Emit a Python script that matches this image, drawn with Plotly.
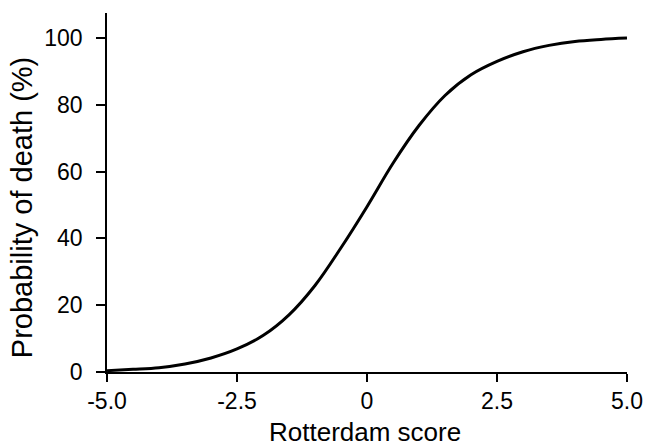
import plotly.graph_objects as go

score = [-5.0, -4.5, -4.0, -3.5, -3.0, -2.5, -2.0, -1.5, -1.0, -0.5, 0.0,
         0.5, 1.0, 1.5, 2.0, 2.5, 3.0, 3.5, 4.0, 4.5, 5.0]
prob_death = [0.4, 0.8, 1.3, 2.4, 4.2, 6.9, 10.9, 17.1, 25.9, 37.2, 49.5,
              62.5, 73.8, 82.8, 89.0, 93.0, 95.9, 97.8, 99.0, 99.6, 100.0]

x_tickvals = [-5.0, -2.5, 0.0, 2.5, 5.0]
x_ticktext = ["-5.0", "-2.5", "0", "2.5", "5.0"]
y_tickvals = [0, 20, 40, 60, 80, 100]

x_title = "Rotterdam score"
y_title = "Probability of death (%)"

font_family = "Liberation Sans, Arial, Helvetica, sans-serif"

fig = go.Figure()
fig.add_trace(go.Scatter(
    x=score, y=prob_death, mode="lines",
    line=dict(color="black", width=3, shape="spline", smoothing=1.0),
    hoverinfo="skip", showlegend=False,
))

fig.update_layout(
    width=648, height=446,
    margin=dict(l=107, r=21, t=13, b=74),
    paper_bgcolor="white", plot_bgcolor="white",
    font=dict(family=font_family, size=23, color="black"),
)
fig.update_xaxes(
    range=[-5, 5], tickvals=x_tickvals, ticktext=x_ticktext, automargin=False,
    showgrid=False, zeroline=False, showline=True, linecolor="black", linewidth=1.5,
    ticks="outside", ticklen=8, tickwidth=1.5, tickcolor="black",
    tickfont=dict(size=23),
)
fig.update_yaxes(
    range=[0, 107.5], tickvals=y_tickvals, automargin=False,
    showgrid=False, zeroline=False, showline=True, linecolor="black", linewidth=1.5,
    ticks="outside", ticklen=9, tickwidth=1.5, tickcolor="black",
    tickfont=dict(size=23), ticklabelstandoff=9,
)
fig.add_annotation(
    text=x_title, showarrow=False,
    xref="paper", yref="paper", x=0.496, y=-0.166,
    xanchor="center", yanchor="middle",
    font=dict(size=26, family=font_family, color="black"),
)
fig.add_annotation(
    text=y_title, textangle=-90, showarrow=False,
    xref="paper", yref="paper", x=-0.163, y=0.457,
    xanchor="center", yanchor="middle",
    font=dict(size=29, family=font_family, color="black"),
)

fig.write_html(
    "out.html",
    config={"displayModeBar": False},
    post_script="document.body.style.margin='0';document.body.style.overflow='hidden';",
)
